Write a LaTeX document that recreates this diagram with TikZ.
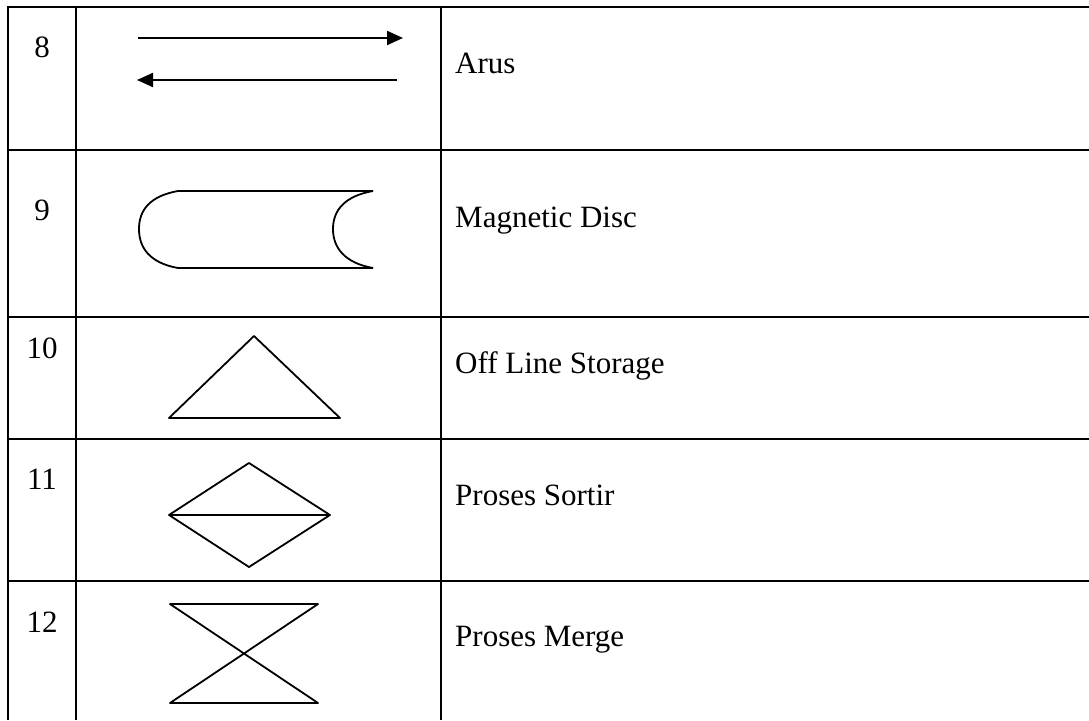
\documentclass[tikz,border=0pt]{standalone}
\usepackage{fontspec}
\setmainfont{Liberation Serif}
\usetikzlibrary{arrows.meta}
\begin{document}
\begin{tikzpicture}[x=1pt,y=-1pt,
  grid/.style={line width=2.8pt},
  sym/.style={line width=1.8pt, line join=round},
  arw/.style={line width=2.2pt, -{Triangle[length=16pt,width=14pt]}},
  num/.style={anchor=base, inner sep=0pt, font=\fontsize{31}{37}\selectfont},
  lbl/.style={anchor=base west, inner sep=0pt, font=\fontsize{31}{37}\selectfont}]
\useasboundingbox (0,0) rectangle (1089,720);
% table grid
\draw[grid] (8,7) -- (1089,7);
\foreach \yy in {150,317,439,581} \draw[grid] (8,\yy) -- (1089,\yy);
\foreach \xx in {8,76,441} \draw[grid] (\xx,5.6) -- (\xx,720);
% numbers
\node[num] (n8) at (42,57) {8};
\node[num] (n9) at (42,220) {9};
\node[num] (n10) at (42,358) {10};
\node[num] (n11) at (42,489) {11};
\node[num] (n12) at (42,632) {12};
% labels
\node[lbl] (l8) at (455,73) {Arus};
\node[lbl] (l9) at (455,227) {Magnetic Disc};
\node[lbl] (l10) at (455,373) {Off Line Storage};
\node[lbl] (l11) at (455,505) {Proses Sortir};
\node[lbl] (l12) at (455,646) {Proses Merge};
% arrows
\coordinate (a1s) at (138,38); \coordinate (a1e) at (403,38);
\coordinate (a2s) at (397,80); \coordinate (a2e) at (137,80);
\draw[arw] (a1s) -- (a1e);
\draw[arw] (a2s) -- (a2e);
% magnetic disc
\draw[sym] (373,191) -- (178,191)
  .. controls (150,196) and (139,210) .. (139,229)
  .. controls (139,248) and (150,263) .. (178,268) -- (373,268);
\draw[sym] (373,191) .. controls (345,196) and (333,210) .. (333,229)
  .. controls (333,248) and (345,263) .. (373,268);
% off line storage
\draw[sym] (254,336) -- (340,418) -- (169,418) -- cycle;
% sort
\draw[sym] (169,515) -- (249,463) -- (330,515) -- (249,567) -- cycle;
\draw[sym] (169,515) -- (330,515);
% merge
\draw[sym] (170,604) -- (318,604) -- (170,703) -- (318,703) -- cycle;
\end{tikzpicture}
\end{document}
